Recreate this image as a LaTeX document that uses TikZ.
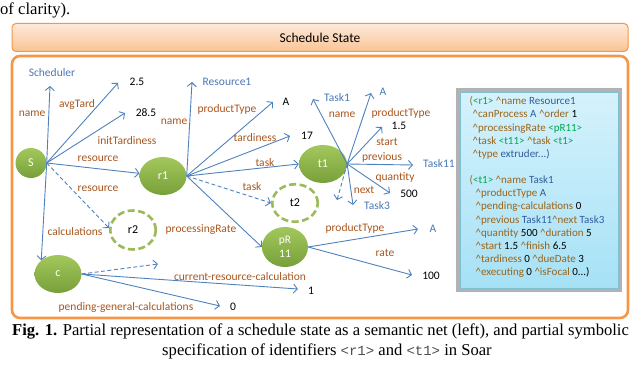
\documentclass[tikz,border=0pt]{standalone}
\usepackage{fontspec}
\setmainfont{Carlito}
\newfontfamily\capfont{Liberation Serif}
\newfontfamily\capmono{Liberation Mono}
\usetikzlibrary{arrows.meta,shapes.geometric}
\definecolor{lbrown}{HTML}{A8561E}
\definecolor{eblue}{HTML}{4F81BD}
\definecolor{tblue}{HTML}{4A78B5}
\definecolor{gtop}{HTML}{A2C75C}
\definecolor{gbot}{HTML}{78A03A}
\definecolor{gdash}{HTML}{9BBB59}
\definecolor{orng}{HTML}{F79646}
\definecolor{otop}{HTML}{FDEADA}
\definecolor{obot}{HTML}{FAC494}
\definecolor{bbrown}{HTML}{9A6418}
\definecolor{bgreen}{HTML}{00A650}
\definecolor{bblue}{HTML}{2F5D9E}
\definecolor{ctop}{HTML}{D5F2FC}
\definecolor{cbot}{HTML}{A6E1F6}
\definecolor{cedge}{HTML}{7FBFD3}
\newcommand\ca{\textasciicircum}
\newcommand\atr[1]{\textcolor{bbrown}{\ca#1}}
\newcommand\idf[1]{\textcolor{bgreen}{<#1>}}
\newcommand\bv[1]{\textcolor{bblue}{#1}}
\tikzset{
  lab/.style={text=lbrown, font=\fontsize{11.5}{13}\selectfont, inner sep=0pt},
  val/.style={text=black, font=\fontsize{11.5}{13}\selectfont, inner sep=0pt},
  bval/.style={val, text=tblue},
  gnode/.style={ellipse, top color=gtop, bottom color=gbot, draw=none, text=white,
    minimum width=47pt, minimum height=38pt, inner sep=0pt, font=\fontsize{12}{13}\selectfont},
  dnode/.style={ellipse, draw=gdash, line width=2.6pt, dash pattern=on 7pt off 3.5pt,
    fill=white, minimum width=45.5pt, minimum height=37.5pt, inner sep=0pt,
    font=\fontsize{12}{13}\selectfont},
  arr/.style={draw=eblue, line width=0.9pt, -{Straight Barb[length=4pt,width=9pt]}},
  darr/.style={arr, dash pattern=on 4pt off 2.5pt},
  capsty/.style={inner sep=0pt, font=\capfont\fontsize{16.6}{18}\selectfont},
}
\begin{document}
\begin{tikzpicture}[x=1pt,y=-1pt]
\useasboundingbox (0,0) rectangle (640,377);
% text above
\node[capsty, anchor=west] (clar) at (0,10) {of clarity).};
% title box
\node[draw=orng, line width=1pt, rounded corners=4pt, top color=otop, bottom color=obot,
  minimum width=616pt, minimum height=28pt, inner sep=0pt, font=\fontsize{13.5}{15}\selectfont]
  (title) at (320,37.5) {Schedule State};
% main frame
\draw[orng, line width=2.6pt, rounded corners=8pt] (12,56) rectangle (628,318);
% spec box
\draw[gray!60, line width=4pt] (458,90) rectangle (620,290);
\node[anchor=north west, draw=cedge, line width=0.8pt, top color=ctop, bottom color=cbot,
  minimum width=158pt, minimum height=196pt, inner sep=0pt] (spec) at (460,92) {};
\node[anchor=north west, align=left, inner sep=0pt, font=\fontsize{11}{13.15}\selectfont] (spectext) at (469.5,96.5) {%
\textcolor{bbrown}{(}\idf{r1} \atr{name} \bv{Resource1}\\
\hspace*{3pt}\atr{canProcess} \bv{A} \atr{order} 1\\
\hspace*{3pt}\atr{processingRate} \idf{pR11}\\
\hspace*{3pt}\atr{task} \idf{t11} \atr{task} \idf{t1}\\
\hspace*{3pt}\atr{type} \bv{extruder...)}\\[13.15pt]
\textcolor{bbrown}{(}\idf{t1} \atr{name} \bv{Task1}\\
\hspace*{6pt}\atr{productType} \bv{A}\\
\hspace*{6pt}\atr{pending-calculations} 0\\
\hspace*{6pt}\atr{previous} \bv{Task11}\atr{next} \bv{Task3}\\
\hspace*{6pt}\atr{quantity} 500 \atr{duration} 5\\
\hspace*{6pt}\atr{start} 1.5 \atr{finish} 6.5\\
\hspace*{6pt}\atr{tardiness} 0 \atr{dueDate} 3\\
\hspace*{6pt}\atr{executing} 0 \atr{isFocal} 0...)};
% nodes
\node[gnode, minimum width=31pt, minimum height=30pt] (S) at (31,163) {S};
\node[gnode] (r1) at (163,176) {r1};
\node[gnode, minimum width=48pt] (t1) at (323,164) {t1};
\node[dnode] (t2) at (295,203) {t2};
\node[dnode, minimum height=39pt] (r2) at (133,230) {r2};
\node[gnode, minimum width=46pt, minimum height=40pt, align=center, font=\fontsize{11.5}{14}\selectfont] (pR) at (285,247) {pR\\11};
\node[gnode] (c) at (58,274) {c};
% value texts
\node[bval] (Scheduler) at (52,73) {Scheduler};
\node[val] (v25) at (137,82) {2.5};
\node[val] (v285) at (146,113) {28.5};
\node[bval] (Resource1) at (227,82) {Resource1};
\node[val] (vA1) at (286,102) {A};
\node[val] (v17) at (307,136) {17};
\node[bval] (Task1) at (337,98) {Task1};
\node[bval] (vA2) at (383,92) {A};
\node[val] (v15) at (399,126) {1.5};
\node[bval] (Task11) at (439,164) {Task11};
\node[val] (v500) at (409,194) {500};
\node[bval] (Task3) at (377,206) {Task3};
\node[bval] (vA3) at (433,229) {A};
\node[val] (v100) at (431,276) {100};
\node[val] (v1) at (311,291) {1};
\node[val] (v0) at (233,307) {0};
\coordinate (cfree) at (158,264);
\coordinate (tfree) at (337,200);
% labels
\node[lab] at (32,114) {name};
\node[lab] at (77,104) {avgTard};
\node[lab] at (127,141) {initTardiness};
\node[lab] at (98,159) {resource};
\node[lab] at (98,189) {resource};
\node[lab] at (75,232) {calculations};
\node[lab] at (201,230) {processingRate};
\node[lab] at (240,277) {current-resource-calculation};
\node[lab] at (126,307) {pending-general-calculations};
\node[lab] at (174,122) {name};
\node[lab] at (227,109) {productType};
\node[lab] at (255,138) {tardiness};
\node[lab] at (265,163) {task};
\node[lab] at (252,187) {task};
\node[lab] at (342,115) {name};
\node[lab] at (401,113) {productType};
\node[lab] at (387,142) {start};
\node[lab] at (382,157) {previous};
\node[lab] at (395,177) {quantity};
\node[lab] at (364,190) {next};
\node[lab] at (355,228) {productType};
\node[lab] at (385,253) {rate};
% connectors from S
\draw[arr] (S.east) -- ([xshift=-2pt,yshift=-13pt]Scheduler.center);
\draw[arr] (S.east) -- ([xshift=-19pt,yshift=-1pt]v25.center);
\draw[arr] (S.east) -- ([xshift=-21pt]v285.center);
\draw[arr] (S.east) -- (r1);
\draw[darr] (S.east) -- ([yshift=2pt]r2.west);
\draw[arr] (S.east) -- (c.north west);
% from r1
\draw[arr] (r1.east) -- ([xshift=-35pt]Resource1.center);
\draw[arr] (r1.east) -- ([xshift=-13pt]vA1.center);
\draw[arr] (r1.east) -- ([xshift=-17pt]v17.center);
\draw[arr] (r1.east) -- (t1.west);
\draw[darr] (r1.east) -- (t2.west);
\draw[arr] (r1.east) -- (pR.west);
% from t1
\draw[arr] (t1.east) -- ([xshift=-24pt,yshift=-1pt]Task1.center);
\draw[arr] (t1.east) -- ([xshift=-12pt,yshift=-1pt]vA2.center);
\draw[arr] (t1.east) -- ([xshift=-17pt,yshift=-1pt]v15.center);
\draw[arr] (t1.east) -- ([xshift=-26pt,yshift=-1pt]Task11.center);
\draw[arr] (t1.east) -- ([xshift=-19pt,yshift=1pt]v500.center);
\draw[arr] (t1.east) -- ([xshift=-24pt,yshift=1pt]Task3.center);
\draw[darr] (t1.east) -- (tfree);
% from pR
\draw[arr] (pR.east) -- ([xshift=-15pt]vA3.center);
\draw[arr] (pR.east) -- ([xshift=-19pt,yshift=1pt]v100.center);
% from c
\draw[darr] (c.east) -- (cfree);
\draw[arr] (c.east) -- ([xshift=-13pt,yshift=2pt]v1.center);
\draw[arr] (c.east) -- ([xshift=-13pt,yshift=1pt]v0.center);
% caption
\node[capsty] (cap1) at (320.5,331)
  {\textbf{Fig. 1.} Partial representation of a schedule state as a semantic net (left), and partial symbolic};
\node[capsty] (cap2) at (327,351)
  {specification of identifiers {\capmono\fontsize{14}{16}\selectfont\color{black!70}<r1>} and {\capmono\fontsize{14}{16}\selectfont\color{black!70}<t1>} in Soar};
\end{tikzpicture}
\end{document}
